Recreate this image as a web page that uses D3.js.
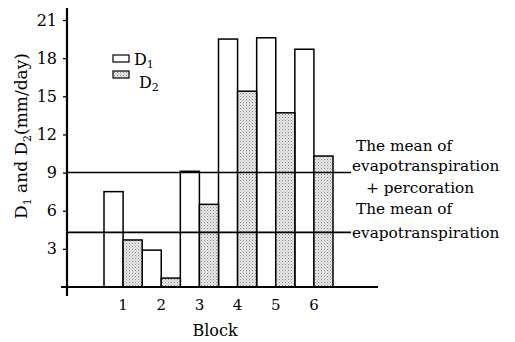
<html lang="en">
  <head>
    <meta charset="UTF-8">
    <title>D1 and D2 by block</title>
    <script src="https://d3js.org/d3.v7.min.js"></script>
    <style>
body, html {
  margin: 0;
  padding: 0;
  background: white;
  overflow: hidden;
}
svg {
  display: block;
}
svg text {
  font-family: "DejaVu Serif", serif;
  fill: black;
}
    </style>
  </head>
  <body>
    <svg width="515" height="342"></svg>
    <script>
      const blocks = ["1", "2", "3", "4", "5", "6"];
      const d1 = [7.5, 2.9, 9.1, 19.5, 19.6, 18.7];
      const d2 = [3.7, 0.7, 6.5, 15.4, 13.7, 10.3];
      const yTicks = [3, 6, 9, 12, 15, 18, 21];
      const meanLines = [9.0, 4.3]; // ET + percolation, ET

      const svg = d3.select("svg");

      const x = d3.scaleBand().domain(blocks).range([104, 333]);
      const y = d3.scaleLinear().domain([0, 21]).range([287, 20]);

      const defs = svg.append("defs");
      const pat = defs.append("pattern")
        .attr("id", "dots")
        .attr("width", 3).attr("height", 3)
        .attr("patternUnits", "userSpaceOnUse");
      pat.append("rect").attr("width", 3).attr("height", 3).attr("fill", "#e8e8e8");
      pat.append("rect").attr("x", 0).attr("y", 0).attr("width", 1).attr("height", 1).attr("fill", "#888");
      pat.append("rect").attr("x", 1.5).attr("y", 1.5).attr("width", 1).attr("height", 1).attr("fill", "#aaa");

      const rows = blocks.map((b, i) => ({ b, d1: d1[i], d2: d2[i] }));
      const bw = x.bandwidth() / 2;

      // D1 bars (open)
      svg.selectAll("rect.d1")
        .data(rows)
        .join("rect")
        .attr("class", "d1")
        .attr("x", d => x(d.b))
        .attr("y", d => y(d.d1))
        .attr("width", bw)
        .attr("height", d => y(0) - y(d.d1))
        .attr("fill", "white")
        .attr("stroke", "black")
        .attr("stroke-width", 1.5);

      // D2 bars (stippled)
      svg.selectAll("rect.d2")
        .data(rows)
        .join("rect")
        .attr("class", "d2")
        .attr("x", d => x(d.b) + bw)
        .attr("y", d => y(d.d2))
        .attr("width", bw)
        .attr("height", d => y(0) - y(d.d2))
        .attr("fill", "url(#dots)")
        .attr("stroke", "black")
        .attr("stroke-width", 1.5);

      // mean lines
      svg.selectAll("line.mean")
        .data(meanLines)
        .join("line")
        .attr("class", "mean")
        .attr("x1", 67).attr("x2", 351)
        .attr("y1", d => y(d)).attr("y2", d => y(d))
        .attr("stroke", "black")
        .attr("stroke-width", 1.6);

      // y axis
      const yAxis = svg.append("g")
        .attr("transform", "translate(67,0)")
        .call(d3.axisLeft(y).tickValues(yTicks).tickSize(4).tickPadding(6));
      yAxis.select(".domain").remove();
      yAxis.selectAll("text")
        .attr("font-size", 16)
        .attr("font-family", null);
      yAxis.selectAll("line").attr("stroke-width", 1.3);

      svg.append("line")
        .attr("x1", 67).attr("x2", 67)
        .attr("y1", 8).attr("y2", 296)
        .attr("stroke", "black").attr("stroke-width", 2.2);

      // x axis
      svg.append("line")
        .attr("x1", 61).attr("x2", 378)
        .attr("y1", y(0)).attr("y2", y(0))
        .attr("stroke", "black").attr("stroke-width", 2);

      const xAxis = svg.append("g")
        .attr("transform", `translate(0,${y(0)})`)
        .call(d3.axisBottom(x).tickSize(0).tickPadding(12));
      xAxis.select(".domain").remove();
      xAxis.selectAll("text")
        .attr("font-size", 15)
        .attr("font-family", null);

      // axis titles
      svg.append("text")
        .attr("x", 215).attr("y", 336)
        .attr("text-anchor", "middle")
        .attr("font-size", 16)
        .text("Block");

      const yl = svg.append("text")
        .attr("transform", "translate(27,136) rotate(-90)")
        .attr("text-anchor", "middle")
        .attr("font-size", 17);
      yl.append("tspan").text("D");
      yl.append("tspan").attr("font-size", 11).attr("dy", 4).text("1");
      yl.append("tspan").attr("dy", -4).text(" and D");
      yl.append("tspan").attr("font-size", 11).attr("dy", 4).text("2");
      yl.append("tspan").attr("dy", -4).text("(mm/day)");

      // legend
      const legend = [
        { name: "1", fill: "white", y: 55, ty: 65, tx: 134 },
        { name: "2", fill: "url(#dots)", y: 71, ty: 88, tx: 139 }
      ];
      legend.forEach(l => {
        svg.append("rect")
          .attr("x", 113).attr("y", l.y)
          .attr("width", 16).attr("height", 7)
          .attr("fill", l.fill).attr("stroke", "black").attr("stroke-width", 1.2);
        const t = svg.append("text").attr("x", l.tx).attr("y", l.ty).attr("font-size", 16);
        t.append("tspan").text("D");
        t.append("tspan").attr("font-size", 11).attr("dy", 3).text(l.name);
      });

      // annotations
      const notes = [
        { t: "The mean of", x: 356, y: 151 },
        { t: "evapotranspiration", x: 352, y: 171 },
        { t: "+  percoration", x: 366, y: 193 },
        { t: "The mean of", x: 356, y: 214 },
        { t: "evapotranspiration", x: 352, y: 238 }
      ];
      svg.selectAll("text.note")
        .data(notes)
        .join("text")
        .attr("class", "note")
        .attr("x", d => d.x).attr("y", d => d.y)
        .attr("font-size", 15.3)
        .text(d => d.t);
    </script>
  </body>
</html>
